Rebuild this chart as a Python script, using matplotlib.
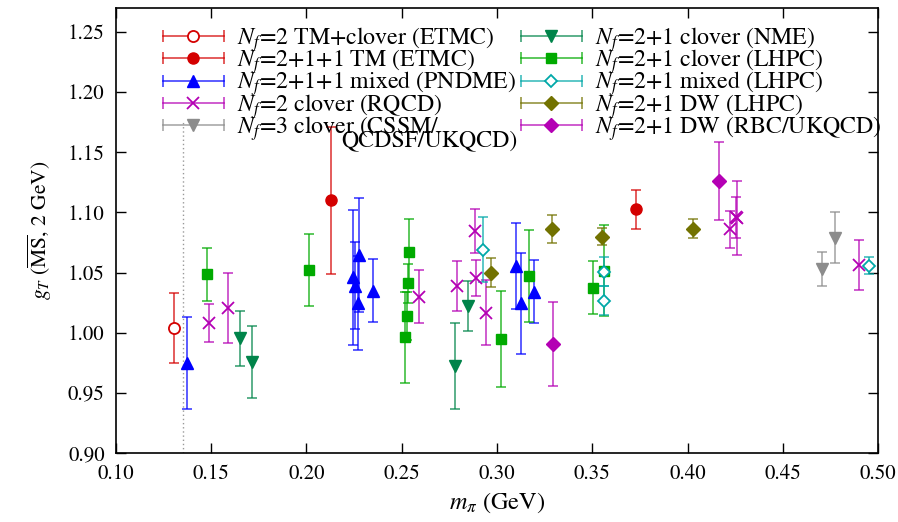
import matplotlib
matplotlib.use("Agg")
import matplotlib.pyplot as plt
from matplotlib.lines import Line2D
from matplotlib.legend_handler import HandlerLine2D, HandlerTuple

plt.rcParams["font.family"] = "STIXGeneral"
plt.rcParams["mathtext.fontset"] = "stix"

# pion mass (GeV), g_T and its error for each collaboration
etmc_nf2_m = [0.1304]
etmc_nf2_g = [1.004]
etmc_nf2_e = [0.029]

etmc_nf211_m = [0.2127, 0.3728]
etmc_nf211_g = [1.110, 1.1026]
etmc_nf211_e = [0.061, 0.016]

pndme_m = [0.1374, 0.2242, 0.2255, 0.2276, 0.2272, 0.2347, 0.3100, 0.3126, 0.3194]
pndme_g = [0.975, 1.046, 1.039, 1.0646, 1.025, 1.035, 1.0555, 1.0244, 1.0341]
pndme_e = [0.038, 0.056, 0.036, 0.047, 0.039, 0.026, 0.036, 0.042, 0.026]

rqcd_m = [0.1488, 0.1589, 0.2591, 0.2792, 0.2885, 0.2890, 0.2942, 0.4223, 0.4257, 0.4255, 0.4897]
rqcd_g = [1.0083, 1.0208, 1.030, 1.0388, 1.0846, 1.0452, 1.0166, 1.086, 1.0954, 1.0958, 1.0563]
rqcd_e = [0.016, 0.029, 0.022, 0.021, 0.018, 0.015, 0.027, 0.0155, 0.031, 0.017, 0.021]

cssm_m = [0.4704, 0.4772]
cssm_g = [1.0527, 1.079]
cssm_e = [0.014, 0.021]

nme_m = [0.1653, 0.1714, 0.2778, 0.2846]
nme_g = [0.9953, 0.976, 0.9723, 1.0222]
nme_e = [0.023, 0.030, 0.036, 0.021]

lhpc_clover_m = [0.1479, 0.2013, 0.2515, 0.2529, 0.2531, 0.2538, 0.3021, 0.3168, 0.3506, 0.3559]
lhpc_clover_g = [1.0486, 1.0521, 0.9962, 1.0139, 1.0411, 1.0673, 0.9948, 1.0471, 1.0374, 1.0516]
lhpc_clover_e = [0.022, 0.030, 0.038, 0.020, 0.016, 0.027, 0.040, 0.038, 0.022, 0.038]

lhpc_mixed_m = [0.2925, 0.3559, 0.3559, 0.4953]
lhpc_mixed_g = [1.0688, 1.0507, 1.0266, 1.0557]
lhpc_mixed_e = [0.027, 0.012, 0.012, 0.007]

lhpc_dw_m = [0.2966, 0.3287, 0.3550, 0.4027]
lhpc_dw_g = [1.0499, 1.0862, 1.0798, 1.0865]
lhpc_dw_e = [0.012, 0.012, 0.007, 0.008]

rbc_m = [0.3292, 0.4165]
rbc_g = [0.9904, 1.1261]
rbc_e = [0.035, 0.032]

phys_mpi = 0.135

# (m, g, err, label, colour, marker, filled, size)
series = [
    (etmc_nf2_m, etmc_nf2_g, etmc_nf2_e, r"$N_f$=2 TM+clover (ETMC)", "#d40000", "o", False, 8),
    (etmc_nf211_m, etmc_nf211_g, etmc_nf211_e, r"$N_f$=2+1+1 TM (ETMC)", "#d40000", "o", True, 8),
    (pndme_m, pndme_g, pndme_e, r"$N_f$=2+1+1 mixed (PNDME)", "#0000ff", "^", True, 8),
    (rqcd_m, rqcd_g, rqcd_e, r"$N_f$=2 clover (RQCD)", "#b400b4", "x", True, 8),
    (cssm_m, cssm_g, cssm_e, r"$N_f$=3 clover (CSSM/", "#8c8c8c", "v", True, 8),
    (nme_m, nme_g, nme_e, r"$N_f$=2+1 clover (NME)", "#00844a", "v", True, 8),
    (lhpc_clover_m, lhpc_clover_g, lhpc_clover_e, r"$N_f$=2+1 clover (LHPC)", "#00aa00", "s", True, 7),
    (lhpc_mixed_m, lhpc_mixed_g, lhpc_mixed_e, r"$N_f$=2+1 mixed (LHPC)", "#00a8a8", "D", False, 6),
    (lhpc_dw_m, lhpc_dw_g, lhpc_dw_e, r"$N_f$=2+1 DW (LHPC)", "#727200", "D", True, 7),
    (rbc_m, rbc_g, rbc_e, r"$N_f$=2+1 DW (RBC/UKQCD)", "#b400b4", "D", True, 7),
]

fig = plt.figure(figsize=(8.98, 5.22), dpi=100)
ax = fig.add_axes([0.129, 0.132, 0.849, 0.853])

ax.vlines(phys_mpi, 0.90, 1.175, colors="#999999", linestyles=(0, (1, 2)), lw=1.0, zorder=1)

handles = []
handler_map = {}
for m, g, e, label, c, mk, filled, ms in series:
    face = c if filled else "white"
    mew = 1.3 if mk == "x" or not filled else 1.0
    ax.errorbar(m, g, yerr=e, fmt="none", ecolor=c, elinewidth=1.2, capsize=3.5,
                capthick=1.2, alpha=0.75, zorder=2)
    ax.plot(m, g, ls="none", marker=mk, ms=ms, color=c, mfc=face, mec=c, mew=mew, zorder=3)
    # gnuplot-style key sample: horizontal bar with end caps and the marker in the middle
    caps = Line2D([], [], color=c, lw=1.2, marker="|", ms=8, mew=1.2, alpha=0.75)
    dot = Line2D([], [], ls="none", marker=mk, ms=ms, color=c, mfc=face, mec=c, mew=mew)
    handler_map[caps] = HandlerLine2D(numpoints=2, marker_pad=0)
    handler_map[dot] = HandlerLine2D(numpoints=1)
    handles.append(((caps, dot), label))

handler_map[tuple] = HandlerTuple(ndivide=1)

leg_kw = dict(frameon=False, fontsize=17.2, borderpad=0, borderaxespad=0,
              handlelength=2.55, handletextpad=0.55, labelspacing=-0.27,
              handler_map=handler_map, loc="upper left")
leg1 = ax.legend([h for h, _ in handles[:5]], [l for _, l in handles[:5]],
                 bbox_to_anchor=(0.0617, 0.962), **leg_kw)
ax.add_artist(leg1)
ax.legend([h for h, _ in handles[5:]], [l for _, l in handles[5:]],
          bbox_to_anchor=(0.531, 0.962), **leg_kw)
ax.text(0.296, 0.701, "QCDSF/UKQCD)", transform=ax.transAxes, fontsize=17.2,
        va="center", ha="left")

ax.set_xlim(0.10, 0.50)
ax.set_ylim(0.90, 1.27)
ax.set_xticks([0.10, 0.15, 0.20, 0.25, 0.30, 0.35, 0.40, 0.45, 0.50])
ax.set_yticks([0.90, 0.95, 1.00, 1.05, 1.10, 1.15, 1.20, 1.25])
ax.xaxis.set_major_formatter(plt.FormatStrFormatter("%.2f"))
ax.yaxis.set_major_formatter(plt.FormatStrFormatter("%.2f"))
ax.tick_params(direction="in", length=7, width=1.0, top=True, right=True,
               labelsize=15, pad=8)
for sp in ax.spines.values():
    sp.set_linewidth(1.2)

ax.set_xlabel(r"$m_\pi$ (GeV)", fontsize=17.5, labelpad=5)
ax.set_ylabel(r"$g_T$ ($\overline{\rm MS}$, 2 GeV)", fontsize=15.5, labelpad=10)

fig.savefig("out.png", dpi=100)
